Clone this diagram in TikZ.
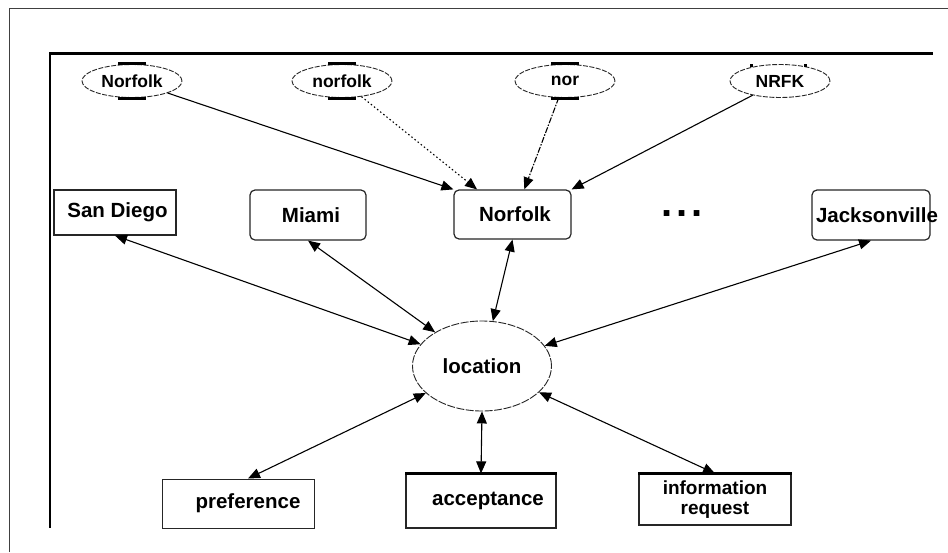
\documentclass[tikz,border=0pt]{standalone}
\usepackage{fontspec}
\setmainfont{Liberation Sans}
\usetikzlibrary{arrows.meta,shapes.geometric,calc}
\begin{document}
\begin{tikzpicture}[x=1pt,y=-1pt,
  ell/.style={ellipse, draw=black!85, line width=0.9pt, dash pattern=on 5pt off 1.5pt,
    minimum width=100pt, minimum height=33pt, inner sep=0pt,
    font=\bfseries\fontsize{17.5}{19}\selectfont},
  box/.style={rectangle, draw=black!85, line width=1.2pt, inner sep=0pt,
    font=\bfseries\fontsize{20.5}{22}\selectfont},
  rbox/.style={box, rounded corners=5pt},
  bar/.style={line width=3pt, black},
  one/.style={draw=black, line width=1.1pt, -{Triangle[length=12pt,width=10pt]}},
  two/.style={draw=black, line width=1.1pt, {Triangle[length=12pt,width=10pt]}-{Triangle[length=12pt,width=10pt]}}
]
\fill[white] (0,0) rectangle (948,552);
\useasboundingbox (0,0) rectangle (948,552);
% outer border
\draw[black!75, line width=1pt] (9,552) -- (9,8) -- (948,8);
% inner frame
\draw[black, line width=3pt] (49,53) -- (933,53);
\draw[black, line width=2pt] (50,52) -- (50,528);

% top ellipses
\node[ell] (e1) at (132,81) {Norfolk};
\node[ell] (e2) at (342,81) {norfolk};
\node[ell] (e3) at (565,81) {nor};
\node[ell] (e4) at (780,81) {NRFK};
\foreach \e in {e1,e2,e3}{
  \draw[bar] ($(\e.north)+(-14,-1)$) -- ++(28,0);
  \draw[bar] ($(\e.south)+(-14,0.5)$) -- ++(28,0);
}
\fill[black] ($(e4.north)+(-30,0)$) rectangle ++(3,2.5);
\fill[black] ($(e4.north)+(24,0)$) rectangle ++(3,2.5);

% middle boxes
\node[box, minimum width=122pt, minimum height=45pt] (sd) at (115,212.5) {\hspace{5pt}San Diego};
\node[rbox, minimum width=116pt, minimum height=50pt] (mi) at (308,215) {\hspace{6pt}Miami};
\node[rbox, minimum width=117pt, minimum height=49pt] (nb) at (512.5,214.5) {\hspace{5pt}Norfolk};
\node[rbox, minimum width=118pt, minimum height=50pt] (jb) at (871,215) {\makebox[114pt][l]{\hspace{2pt}Jacksonville}};
\node[font=\bfseries\fontsize{40}{40}\selectfont, inner sep=0pt] (dots) at (682,214) {.\hspace{4pt}.\hspace{4pt}.};

% location
\node[ellipse, draw=black!85, line width=0.9pt, dash pattern=on 8pt off 1.5pt,
  minimum width=139pt, minimum height=90pt, inner sep=0pt,
  font=\bfseries\fontsize{20.5}{22}\selectfont] (loc) at (482,366) {location};

% bottom boxes
\node[box, line width=1pt, minimum width=152pt, minimum height=49pt] (pf) at (238,503.5) {\hspace{20pt}preference};
\node[box, minimum width=150pt, minimum height=54pt] (ac) at (481,501) {\hspace{14pt}acceptance};
\node[box, minimum width=152pt, minimum height=51pt, align=center,
  font=\bfseries\fontsize{19}{20}\selectfont] (ir) at (715,499.5) {information\\request};
\draw[bar] (ac.north west) -- (ac.north east);
\draw[bar] (ir.north west) -- (ir.north east);

% connectors top
\draw[one] (e1) -- (nb.north west);
\draw[one, dash pattern=on 1.5pt off 2.5pt] (e2) -- ($(nb.north west)!0.2!(nb.north east)$);
\draw[one, dash pattern=on 6pt off 1.5pt on 1.5pt off 1.5pt] (e3) -- ($(nb.north west)!0.6!(nb.north east)$);
\draw[one] (e4) -- (nb.north east);

% connectors to location
\draw[two] (sd.south) -- (loc);
\draw[two] (mi.south) -- (loc);
\draw[two] (nb.south) -- (loc);
\draw[two] (jb.south) -- (loc);
\draw[two] (loc) -- ($(pf.north)+(10,0)$);
\draw[two] (loc.south) -- (ac.north);
\draw[two] (loc) -- (ir.north);
\end{tikzpicture}
\end{document}
